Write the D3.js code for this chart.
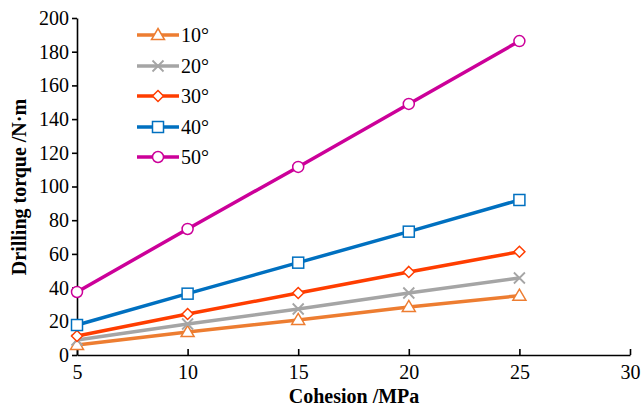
<!DOCTYPE html>
<html><head><meta charset="utf-8">
<script src="https://cdn.jsdelivr.net/npm/d3@7"></script>
<style>body{margin:0;background:#fff}svg{display:block}</style>
</head><body><svg id="c" width="642" height="413"></svg>
<script>
const cohesion = [5, 10, 15, 20, 25];
const seriesNames = ["10°", "20°", "30°", "40°", "50°"];
const torque10 = [6.0, 13.6, 20.8, 28.5, 35.2];
const torque20 = [8.9, 18.4, 27.3, 36.8, 45.7];
const torque30 = [11.3, 24.3, 36.8, 49.3, 61.3];
const torque40 = [17.8, 36.4, 54.8, 73.2, 92.0];
const torque50 = [37.4, 74.8, 111.6, 149.0, 186.3];
const xTicks = [5, 10, 15, 20, 25, 30];
const yTicks = [0, 20, 40, 60, 80, 100, 120, 140, 160, 180, 200];
const colors = ["#ED7D31", "#A5A5A5", "#FF3D00", "#0070C0", "#CC0099"];
const markers = ["triangle", "cross", "diamond", "square", "circle"];
const allSeries = [torque10, torque20, torque30, torque40, torque50];
const FONT = '"Liberation Serif"';

const svg = d3.select("#c");
const x = d3.scaleLinear().domain([5, 30]).range([77, 630]);
const y = d3.scaleLinear().domain([0, 200]).range([355, 18]);

// axes
const xAxis = svg.append("g").attr("transform", "translate(0,355)")
  .call(d3.axisBottom(x).tickValues(xTicks).tickSizeInner(-6).tickSizeOuter(0).tickPadding(10));
const yAxis = svg.append("g").attr("transform", "translate(77,0)")
  .call(d3.axisLeft(y).tickValues(yTicks).tickSizeInner(5).tickSizeOuter(0).tickPadding(3));
[xAxis, yAxis].forEach(g => {
  g.attr("font-family", null).attr("font-size", null);
  g.selectAll("path,line").attr("stroke", "#000").attr("stroke-width", 1.6);
  g.selectAll("text").style("font-family", FONT).style("font-size", "20px").attr("fill", "#000");
});

svg.append("text").attr("x", 354).attr("y", 403).attr("text-anchor", "middle")
  .style("font-family", FONT).style("font-size", "20px").style("font-weight", "bold").text("Cohesion /MPa");
svg.append("text").attr("transform", "translate(26,187) rotate(-90)").attr("text-anchor", "middle")
  .style("font-family", FONT).style("font-size", "20px").style("font-weight", "bold").text("Drilling torque /N·m");

function drawMarker(g, type, cx, cy, color) {
  const s = 5.5;
  if (type === "triangle") {
    g.append("path").attr("d", `M${cx},${cy - s - 1}L${cx + s + 1},${cy + s - 1}L${cx - s - 1},${cy + s - 1}Z`)
      .attr("fill", "#fff").attr("stroke", color).attr("stroke-width", 1.5);
  } else if (type === "cross") {
    g.append("path").attr("d", `M${cx - s},${cy - s}L${cx + s},${cy + s}M${cx - s},${cy + s}L${cx + s},${cy - s}`)
      .attr("stroke", color).attr("stroke-width", 1.8);
  } else if (type === "diamond") {
    g.append("path").attr("d", `M${cx},${cy - s}L${cx + s},${cy}L${cx},${cy + s}L${cx - s},${cy}Z`)
      .attr("fill", "#fff").attr("stroke", color).attr("stroke-width", 1.5);
  } else if (type === "square") {
    g.append("rect").attr("x", cx - s).attr("y", cy - s).attr("width", 2 * s).attr("height", 2 * s)
      .attr("fill", "#fff").attr("stroke", color).attr("stroke-width", 1.5);
  } else {
    g.append("circle").attr("cx", cx).attr("cy", cy).attr("r", s)
      .attr("fill", "#fff").attr("stroke", color).attr("stroke-width", 1.5);
  }
}

const line = d3.line().x((d, i) => x(cohesion[i])).y(d => y(d));
allSeries.forEach((vals, k) => {
  const g = svg.append("g");
  g.append("path").attr("d", line(vals)).attr("fill", "none").attr("stroke", colors[k]).attr("stroke-width", 3.5);
  vals.forEach((v, i) => drawMarker(g, markers[k], x(cohesion[i]), y(v), colors[k]));
});

// legend
const legY = [35, 66, 96, 127, 157];
seriesNames.forEach((name, k) => {
  const g = svg.append("g");
  g.append("line").attr("x1", 137).attr("x2", 179).attr("y1", legY[k]).attr("y2", legY[k])
    .attr("stroke", colors[k]).attr("stroke-width", 3.5);
  drawMarker(g, markers[k], 158, legY[k], colors[k]);
  g.append("text").attr("x", 181).attr("y", legY[k] + 7).style("font-family", FONT).style("font-size", "20px")
    .attr("fill", "#000").text(name);
});
</script></body></html>
